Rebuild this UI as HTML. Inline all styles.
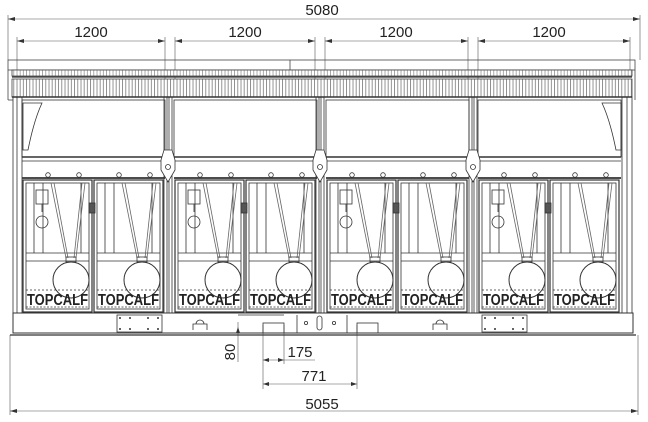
<!DOCTYPE html>
<html><head><meta charset="utf-8"><style>
html,body{margin:0;padding:0;background:#fff;width:648px;height:422px;overflow:hidden}
svg{display:block}
text{font-family:"Liberation Sans",sans-serif;fill:#222}
.t{font-family:"Liberation Sans",sans-serif;font-weight:bold;fill:#444}
</style></head><body>
<svg width="648" height="422" viewBox="0 0 648 422" xmlns="http://www.w3.org/2000/svg">
<defs>
<pattern id="grill" width="3.2" height="20" patternUnits="userSpaceOnUse">
<rect width="3.2" height="20" fill="#fff"/><line x1="1" y1="0" x2="1" y2="20" stroke="#777" stroke-width="0.8"/>
</pattern>
<pattern id="grill2" width="3.2" height="5" patternUnits="userSpaceOnUse">
<rect width="3.2" height="5" fill="#fff"/><line x1="1" y1="0" x2="1" y2="5" stroke="#888" stroke-width="0.7"/>
</pattern>
<g id="gate" fill="none" stroke="#333" stroke-width="0.8">
<rect x="0" y="180" width="69" height="132" stroke-width="1.2"/>
<rect x="3" y="183" width="63" height="126"/>
<line x1="3" y1="253" x2="66" y2="253"/><line x1="3" y1="261" x2="66" y2="261"/>
<line x1="11" y1="183" x2="11" y2="253"/><line x1="20" y1="183" x2="20" y2="253"/>
<line x1="58" y1="183" x2="58" y2="253"/>
<line x1="28" y1="183" x2="43" y2="258" stroke="#666"/><line x1="31" y1="183" x2="45" y2="258" stroke="#666"/>
<line x1="62" y1="183" x2="53" y2="258" stroke="#666"/><line x1="59" y1="183" x2="51" y2="258" stroke="#666"/>
<circle cx="48" cy="280" r="18" stroke-width="1"/>
<rect x="43" y="257" width="10" height="5"/>
<line x1="3" y1="290" x2="66" y2="290" stroke-dasharray="2 2"/>
<line x1="3" y1="307" x2="66" y2="307" stroke-dasharray="2 1.5"/>
</g>
<g id="bay" fill="none" stroke="#333" stroke-width="0.8">
<rect x="0" y="100" width="143" height="57"/>
<line x1="0" y1="157" x2="143" y2="157" stroke-width="1.5"/>
<line x1="0" y1="161" x2="143" y2="161"/>
<line x1="0" y1="178" x2="143" y2="178" stroke-width="1.8"/>
<circle cx="26" cy="175" r="2.3"/><circle cx="57" cy="175" r="2.3"/>
<circle cx="97" cy="175" r="2.3"/><circle cx="128" cy="175" r="2.3"/>
<use href="#gate" x="1"/><use href="#gate" x="72"/>
<rect x="67" y="203" width="6" height="10" fill="#555"/>
<rect x="14" y="190" width="12" height="14"/><line x1="20" y1="204" x2="20" y2="212"/>
<circle cx="20" cy="222" r="6"/>
</g>
<g id="post" fill="none" stroke="#333" stroke-width="0.8">
<rect x="-4" y="97" width="8" height="216"/><line x1="-1" y1="97" x2="-1" y2="313"/><line x1="1" y1="97" x2="1" y2="313"/>
<path d="M-4 150 L-7 160 L-7 170 L0 182 L7 170 L7 160 L4 150 Z" fill="#fff"/>
<circle cx="0" cy="167" r="2.5"/>
</g>
</defs>

<g stroke="#555" stroke-width="0.6" fill="none">
<line x1="8" y1="19" x2="640" y2="19"/>
<line x1="8" y1="15" x2="8" y2="60"/><line x1="640" y1="15" x2="640" y2="60"/>
<line x1="17" y1="41" x2="165" y2="41"/><line x1="175" y1="41" x2="315" y2="41"/>
<line x1="325" y1="41" x2="468" y2="41"/><line x1="478" y1="41" x2="630" y2="41"/>
<line x1="17" y1="37" x2="17" y2="72"/><line x1="165" y1="37" x2="165" y2="80"/>
<line x1="175" y1="37" x2="175" y2="80"/><line x1="315" y1="37" x2="315" y2="80"/>
<line x1="325" y1="37" x2="325" y2="80"/><line x1="468" y1="37" x2="468" y2="80"/>
<line x1="478" y1="37" x2="478" y2="80"/><line x1="630" y1="37" x2="630" y2="72"/>
<line x1="10" y1="335" x2="10" y2="415"/><line x1="638" y1="335" x2="638" y2="415"/>
<line x1="10" y1="411" x2="638" y2="411"/>
<line x1="263" y1="325" x2="263" y2="389"/><line x1="284" y1="325" x2="284" y2="364"/>
<line x1="357" y1="325" x2="357" y2="389"/>
<line x1="263" y1="360" x2="315" y2="360"/><line x1="263" y1="384" x2="357" y2="384"/>
<line x1="238" y1="322" x2="238" y2="362"/>
</g>
<g fill="#333">
<path d="M8 19 l7 -2 v4z"/><path d="M640 19 l-7 -2 v4z"/>
<path d="M17 41 l7 -2 v4z"/><path d="M165 41 l-7 -2 v4z"/><path d="M175 41 l7 -2 v4z"/><path d="M315 41 l-7 -2 v4z"/>
<path d="M325 41 l7 -2 v4z"/><path d="M468 41 l-7 -2 v4z"/><path d="M478 41 l7 -2 v4z"/><path d="M630 41 l-7 -2 v4z"/>
<path d="M10 411 l7 -2 v4z"/><path d="M638 411 l-7 -2 v4z"/>
<path d="M263 360 l6 -2 v4z"/><path d="M284 360 l-6 -2 v4z"/>
<path d="M263 384 l6 -2 v4z"/><path d="M357 384 l-6 -2 v4z"/>
<path d="M238 327 l-2 6 h4z"/>
</g>
<text x="322" y="15" font-size="15" text-anchor="middle">5080</text>
<text x="91" y="37" font-size="15" text-anchor="middle">1200</text>
<text x="245" y="37" font-size="15" text-anchor="middle">1200</text>
<text x="396" y="37" font-size="15" text-anchor="middle">1200</text>
<text x="549" y="37" font-size="15" text-anchor="middle">1200</text>
<text x="300" y="357" font-size="15" text-anchor="middle">175</text>
<text x="314" y="381" font-size="15" text-anchor="middle">771</text>
<text x="322" y="409" font-size="15" text-anchor="middle">5055</text>
<text x="0" y="0" font-size="15" text-anchor="middle" transform="translate(235,352) rotate(-90)">80</text>

<g fill="none" stroke="#444" stroke-width="0.8">
<rect x="8" y="60" width="627" height="10"/>
<line x1="8" y1="70" x2="8" y2="100"/><line x1="8" y1="100" x2="13" y2="100"/>
<line x1="290" y1="60" x2="290" y2="70"/>
<line x1="635" y1="70" x2="635" y2="100"/>
</g>
<rect x="12" y="70" width="620" height="6" fill="url(#grill2)" stroke="#444" stroke-width="0.8"/>
<rect x="12" y="79" width="620" height="18" fill="url(#grill)" stroke="#444" stroke-width="0.8"/>
<line x1="12" y1="77" x2="632" y2="77" stroke="#333" stroke-width="1.2"/>
<line x1="12" y1="97" x2="632" y2="97" stroke="#333" stroke-width="1.5"/>

<use href="#bay" x="22"/>
<use href="#bay" x="174"/>
<use href="#bay" x="326"/>
<use href="#bay" x="478"/>
<use href="#post" x="168"/><use href="#post" x="320"/><use href="#post" x="473"/>
<g fill="none" stroke="#333" stroke-width="0.8">
<rect x="13" y="97" width="9" height="216"/><line x1="17" y1="97" x2="17" y2="313"/>
<rect x="622" y="97" width="10" height="216"/><line x1="627" y1="97" x2="627" y2="313"/>
<path d="M23 103 L42 103 Q34 120 28 150 L23 150 Z"/>
<path d="M621 103 L602 103 Q610 120 616 150 L621 150 Z"/>
<rect x="13" y="313" width="620" height="20" stroke-width="1"/>
<line x1="10" y1="335" x2="636" y2="335" stroke-width="1.2"/>
<rect x="117" y="315" width="45" height="17"/>
<rect x="482" y="315" width="45" height="17"/>
<line x1="238" y1="315" x2="284" y2="315"/>
<rect x="263" y="323" width="21" height="10"/>
<rect x="357" y="323" width="21" height="10"/>
<line x1="297" y1="315" x2="297" y2="333"/><line x1="347" y1="315" x2="347" y2="333"/>
<rect x="317" y="316" width="5" height="14" rx="2.5"/>
<circle cx="306" cy="323" r="1.6"/><circle cx="334" cy="323" r="1.6"/>
<path d="M193 330 v-6 h14 v6 M196 324 a4 4 0 0 1 8 0"/>
<path d="M433 330 v-6 h14 v6 M436 324 a4 4 0 0 1 8 0"/>
</g>
<g fill="#333">
<circle cx="120" cy="318" r="1"/><circle cx="130" cy="318" r="1"/><circle cx="148" cy="318" r="1"/><circle cx="158" cy="318" r="1"/>
<circle cx="120" cy="329" r="1"/><circle cx="130" cy="329" r="1"/><circle cx="148" cy="329" r="1"/><circle cx="158" cy="329" r="1"/>
<circle cx="485" cy="318" r="1"/><circle cx="495" cy="318" r="1"/><circle cx="513" cy="318" r="1"/><circle cx="523" cy="318" r="1"/>
<circle cx="485" cy="329" r="1"/><circle cx="495" cy="329" r="1"/><circle cx="513" cy="329" r="1"/><circle cx="523" cy="329" r="1"/>
</g>

<g class="t" font-size="16">
<text x="27" y="305" textLength="61" lengthAdjust="spacingAndGlyphs">TOPCALF</text>
<text x="98" y="305" textLength="61" lengthAdjust="spacingAndGlyphs">TOPCALF</text>
<text x="179" y="305" textLength="61" lengthAdjust="spacingAndGlyphs">TOPCALF</text>
<text x="250" y="305" textLength="61" lengthAdjust="spacingAndGlyphs">TOPCALF</text>
<text x="331" y="305" textLength="61" lengthAdjust="spacingAndGlyphs">TOPCALF</text>
<text x="402" y="305" textLength="61" lengthAdjust="spacingAndGlyphs">TOPCALF</text>
<text x="483" y="305" textLength="61" lengthAdjust="spacingAndGlyphs">TOPCALF</text>
<text x="554" y="305" textLength="61" lengthAdjust="spacingAndGlyphs">TOPCALF</text>
</g>
</svg>
</body></html>
